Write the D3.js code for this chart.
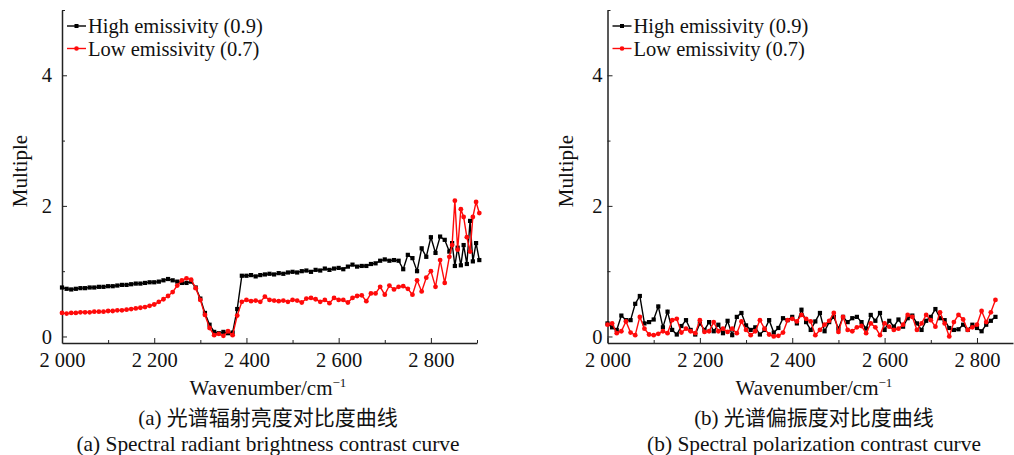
<!DOCTYPE html>
<html lang="en">
<head>
<meta charset="UTF-8" />
<title>Spectral contrast curves</title>
<script src="https://cdn.jsdelivr.net/npm/d3@7/dist/d3.min.js"></script>
<style>
    body { margin: 0; background: #fff; }
    text { font-family: "Liberation Serif", "Times New Roman", "Noto Sans CJK SC", serif; fill: #111; }
    .cn { font-family: "Liberation Serif", "Noto Sans CJK SC", serif; }
    .axis path, .axis line { stroke: #222; }
</style>
</head>
<body>
<svg width="1014" height="455"></svg>
<script>
// wavenumber samples (cm^-1), panel (a) gets denser towards the end
const waveA = d3.range(2000, 2841, 10).concat([2846, 2852, 2858, 2865, 2871, 2878, 2885, 2891, 2898, 2905]);
const highA = [
    0.75, 0.73, 0.72, 0.73, 0.74, 0.74, 0.75, 0.75, 0.76, 0.76,
    0.77, 0.77, 0.78, 0.79, 0.79, 0.80, 0.81, 0.81, 0.82, 0.83,
    0.83, 0.84, 0.86, 0.88, 0.86, 0.84, 0.82, 0.82, 0.84, 0.75,
    0.58, 0.36, 0.18, 0.07, 0.05, 0.07, 0.05, 0.06, 0.42, 0.93,
    0.93, 0.94, 0.92, 0.94, 0.95, 0.96, 0.95, 0.97, 0.96, 0.98,
    0.99, 0.98, 1.00, 1.01, 0.99, 1.02, 1.01, 1.04, 1.02, 1.04,
    1.05, 1.03, 1.07, 1.10, 1.07, 1.08, 1.08, 1.11, 1.12, 1.16,
    1.18, 1.16, 1.17, 1.16, 1.03, 1.25, 1.20, 1.00, 1.35, 1.22,
    1.52, 1.28, 1.53, 1.48, 1.30,
    1.43, 1.08, 1.36, 1.09, 1.40, 1.11, 1.77, 1.15, 1.43, 1.17
];
const lowA = [
    0.36, 0.35, 0.36, 0.36, 0.37, 0.37, 0.37, 0.38, 0.38, 0.38,
    0.39, 0.39, 0.40, 0.40, 0.41, 0.42, 0.43, 0.44, 0.45, 0.47,
    0.49, 0.53, 0.57, 0.62, 0.68, 0.78, 0.86, 0.89, 0.87, 0.74,
    0.56, 0.33, 0.13, 0.02, 0.04, 0.01, 0.08, 0.02, 0.32, 0.53,
    0.56, 0.54, 0.55, 0.53, 0.61, 0.56, 0.55, 0.54, 0.55, 0.53,
    0.56, 0.55, 0.52, 0.58, 0.59, 0.57, 0.53, 0.56, 0.51, 0.59,
    0.56, 0.56, 0.52, 0.59, 0.62, 0.63, 0.54, 0.66, 0.66, 0.76,
    0.64, 0.78, 0.72, 0.76, 0.77, 0.73, 0.64, 0.86, 0.69, 0.90,
    1.00, 0.76, 1.17, 0.82, 1.22,
    1.40, 2.08, 1.33, 1.95, 1.83, 1.52, 1.30, 1.83, 2.06, 1.89
];

const waveB = d3.range(2000, 2841, 10);
const highB = [
    0.20, 0.14, 0.10, 0.32, 0.25, 0.25, 0.50, 0.62, 0.20, 0.22,
    0.26, 0.46, 0.14, 0.38, 0.10, 0.03, 0.16, 0.25, 0.10, 0.03,
    0.20, 0.10, 0.22, 0.08, 0.18, 0.05, 0.24, 0.02, 0.30, 0.36,
    0.17, 0.10, 0.14, 0.03, 0.10, 0.25, 0.06, 0.13, 0.28, 0.25,
    0.30, 0.20, 0.41, 0.22, 0.10, 0.23, 0.36, 0.08, 0.22, 0.30,
    0.12, 0.30, 0.22, 0.28, 0.30, 0.22, 0.12, 0.33, 0.24, 0.36,
    0.10, 0.24, 0.15, 0.26, 0.15, 0.28, 0.32, 0.20, 0.10, 0.24,
    0.30, 0.42, 0.28, 0.25, 0.13, 0.10, 0.11, 0.18, 0.10, 0.18,
    0.13, 0.08, 0.18, 0.24, 0.30
];
const lowB = [
    0.18, 0.20, 0.05, 0.08, 0.23, 0.06, 0.02, 0.30, 0.12, 0.03,
    0.02, 0.04, 0.08, 0.05, 0.25, 0.27, 0.06, 0.12, 0.08, 0.05,
    0.25, 0.07, 0.08, 0.22, 0.08, 0.12, 0.07, 0.12, 0.05, 0.23,
    0.10, 0.02, 0.08, 0.25, 0.12, 0.03, 0.00, 0.01, 0.06, 0.25,
    0.27, 0.23, 0.33, 0.27, 0.23, 0.02, 0.10, 0.18, 0.24, 0.36,
    0.07, 0.30, 0.10, 0.08, 0.14, 0.16, 0.05, 0.20, 0.14, 0.02,
    0.20, 0.15, 0.10, 0.12, 0.18, 0.33, 0.30, 0.10, 0.20, 0.33,
    0.25, 0.15, 0.37, 0.20, 0.00, 0.22, 0.33, 0.26, 0.10, 0.14,
    0.18, 0.39, 0.22, 0.37, 0.56
];

const xTicks = [2000, 2200, 2400, 2600, 2800];
const xMinor = [2100, 2300, 2500, 2700, 2900];
const yTicks = [0, 2, 4];
const yMinor = [1, 3, 5];
const seriesNames = ["High emissivity (0.9)", "Low emissivity (0.7)"];

const svg = d3.select("svg");
const fmt = d => d3.format(",")(d).replace(",", " ");
const RED = "#ff0a0a";

function drawPanel(opt) {
    const x = d3.scaleLinear().domain(opt.xDomain).range([opt.left, opt.right]);
    const y = d3.scaleLinear().domain([-0.1, 5]).range([343, 10]);
    const g = svg.append("g");

    // axes, ticks point inwards
    g.append("g").attr("class", "axis")
        .attr("transform", "translate(0,343)")
        .call(d3.axisBottom(x).tickValues(xMinor.filter(v => v <= opt.xDomain[1]))
            .tickSize(-3).tickSizeOuter(0).tickFormat(""))
        .call(a => a.select(".domain").remove());
    g.append("g").attr("class", "axis")
        .attr("transform", "translate(0,343)")
        .call(d3.axisBottom(x).tickValues(xTicks).tickSize(-5).tickSizeOuter(0)
            .tickPadding(9).tickFormat(fmt))
        .call(a => a.select(".domain").attr("stroke-width", 1.5))
        .call(a => a.selectAll("text").style("font-size", "20.5px"));

    g.append("g").attr("class", "axis")
        .attr("transform", `translate(${opt.left},0)`)
        .call(d3.axisLeft(y).tickValues(yMinor).tickSize(-3).tickSizeOuter(0).tickFormat(""))
        .call(a => a.select(".domain").remove());
    g.append("g").attr("class", "axis")
        .attr("transform", `translate(${opt.left},0)`)
        .call(d3.axisLeft(y).tickValues(yTicks).tickSize(-5).tickSizeOuter(0)
            .tickPadding(opt.yPad).tickFormat(d3.format("d")))
        .call(a => a.select(".domain").attr("stroke-width", 1.5))
        .call(a => a.selectAll("text").style("font-size", "20.5px"));

    const line = d3.line().x(d => x(d[0])).y(d => y(d[1]));
    const hi = opt.wave.map((w, i) => [w, opt.high[i]]);
    const lo = opt.wave.map((w, i) => [w, opt.low[i]]);

    g.append("path").datum(hi).attr("d", line)
        .attr("fill", "none").attr("stroke", "#000").attr("stroke-width", 1.4);
    g.selectAll(".sq").data(hi).enter().append("rect")
        .attr("x", d => x(d[0]) - 2.1).attr("y", d => y(d[1]) - 2.1)
        .attr("width", 4.2).attr("height", 4.2).attr("fill", "#000");

    g.append("path").datum(lo).attr("d", line)
        .attr("fill", "none").attr("stroke", RED).attr("stroke-width", 1.4);
    g.selectAll(".dot").data(lo).enter().append("circle")
        .attr("cx", d => x(d[0])).attr("cy", d => y(d[1]))
        .attr("r", 2.4).attr("fill", RED);

    // legend
    const lx = opt.left + 5;
    [0, 1].forEach(i => {
        const ly = 26 + i * 22.5;
        const col = i === 0 ? "#000" : RED;
        g.append("line").attr("x1", lx).attr("x2", lx + 19).attr("y1", ly).attr("y2", ly)
            .attr("stroke", col).attr("stroke-width", 1.4);
        if (i === 0) {
            g.append("rect").attr("x", lx + 7.5).attr("y", ly - 2).attr("width", 4).attr("height", 4).attr("fill", col);
        } else {
            g.append("circle").attr("cx", lx + 9.5).attr("cy", ly).attr("r", 2.3).attr("fill", col);
        }
        g.append("text").attr("x", lx + 21).attr("y", ly + 7)
            .style("font-size", "20.5px").text(seriesNames[i]);
    });

    // axis titles
    g.append("text")
        .attr("transform", `translate(${opt.left - 35},171) rotate(-90)`)
        .attr("text-anchor", "middle").style("font-size", "21px").text("Multiple");

    const t = g.append("text").attr("x", opt.cx).attr("y", 395)
        .attr("text-anchor", "middle").style("font-size", "21px");
    t.append("tspan").text("Wavenumber/cm");
    t.append("tspan").attr("dy", -8).style("font-size", "13px").text("\u22121");

    g.append("text").attr("class", "cn").attr("x", opt.cx).attr("y", 425)
        .attr("text-anchor", "middle").style("font-size", "21px").text(opt.captionCn);
    g.append("text").attr("x", opt.cx).attr("y", 451)
        .attr("text-anchor", "middle").style("font-size", "21.4px").text(opt.captionEn);
}

drawPanel({
    left: 62, right: 477, xDomain: [2000, 2900], yPad: 10, cx: 268,
    wave: waveA, high: highA, low: lowA,
    captionCn: "(a) 光谱辐射亮度对比度曲线",
    captionEn: "(a) Spectral radiant brightness contrast curve"
});
drawPanel({
    left: 607.5, right: 1013, xDomain: [2000, 2878], yPad: 5, cx: 814,
    wave: waveB, high: highB, low: lowB,
    captionCn: "(b) 光谱偏振度对比度曲线",
    captionEn: "(b) Spectral polarization contrast curve"
});
</script>
</body>
</html>
